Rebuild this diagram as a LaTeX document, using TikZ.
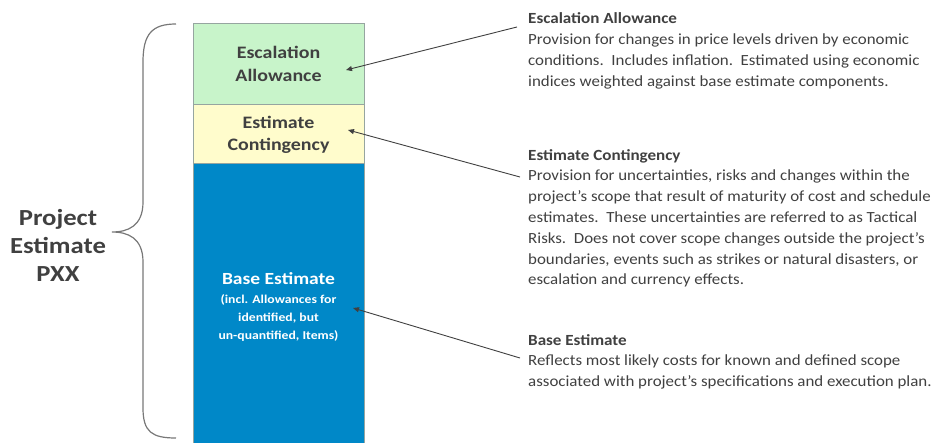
\documentclass[tikz,border=0pt]{standalone}
\usepackage{fontspec}
\setmainfont{Carlito}
\newfontfamily\bodyfont[FakeStretch=1.09]{Carlito}
\newfontfamily\headfont[FakeStretch=1.1]{Carlito}
\newfontfamily\layerfont[FakeStretch=1.14]{Carlito}
\newfontfamily\projfont[FakeStretch=1.16]{Carlito}
\newfontfamily\basefont[FakeStretch=1.15]{Carlito}
\newfontfamily\subfont[FakeStretch=1.14]{Carlito}
\usetikzlibrary{arrows.meta}
\definecolor{escgreen}{RGB}{200,244,202}
\definecolor{contyellow}{RGB}{255,252,204}
\definecolor{baseblue}{RGB}{0,136,200}
\definecolor{txtgray}{RGB}{64,64,64}
\definecolor{edgegray}{RGB}{150,165,160}
\definecolor{bracegray}{RGB}{120,120,120}
\newcommand{\hd}[1]{{\headfont\fontsize{15.5}{20.8}\selectfont\bfseries #1}}
\tikzset{
  layer/.style={draw=edgegray, line width=0.8pt, minimum width=171pt, inner sep=0pt, outer sep=0pt},
  boxtext/.style={font=\layerfont\fontsize{17.5}{22.5}\selectfont\bfseries, text=txtgray, align=center, inner sep=0pt},
  desc/.style={font=\bodyfont\fontsize{15.5}{20.8}\selectfont, text=txtgray, align=left, anchor=north west, inner sep=0pt},
  pointer/.style={-{Triangle[length=6pt,width=5pt]}, draw=txtgray, line width=0.9pt}
}
\begin{document}
\begin{tikzpicture}[x=1pt,y=-1pt]
\useasboundingbox (0,0) rectangle (939,442);
% layers
\node[layer, fill=escgreen, minimum height=81pt, anchor=north west] (esc) at (193,23) {};
\node[layer, fill=contyellow, minimum height=59pt, anchor=north west] (cont) at (193,104) {};
\node[layer, fill=baseblue, minimum height=281pt, anchor=north west] (base) at (193,163) {};
% layer labels
\node[boxtext] (esct) at (278.5,64) {Escalation\\Allowance};
\node[boxtext] (contt) at (278.5,135) {Estimate\\Contingency};
\node[font=\basefont\fontsize{17}{22}\selectfont\bfseries, text=white, inner sep=0pt] (baset) at (278.5,279) {Base Estimate};
\node[font=\subfont\fontsize{12}{18}\selectfont\bfseries, text=white, align=center, inner sep=0pt, anchor=north] (bases) at (278.5,294.5) {(incl. Allowances for\\identified, but\\un-quantified, Items)};
% brace
\draw[bracegray, line width=1.2pt] (176,24) .. controls (152,24) and (143,34) .. (143,62) -- (143,202) .. controls (143,226) and (128,232) .. (112,232) .. controls (128,232) and (143,238) .. (143,262) -- (143,408) .. controls (143,432) and (152,438) .. (176,438);
\node[font=\projfont\fontsize{23}{28}\selectfont\bfseries, text=txtgray, align=center, inner sep=0pt] (proj) at (58,245) {Project\\Estimate\\PXX};
% descriptions
\node[desc] (escd) at (528,12.5) {\hd{Escalation Allowance}\\Provision for changes in price levels driven by economic\\conditions.\ \ Includes inflation.\ \ Estimated using economic\\indices weighted against base estimate components.};
\node[desc] (contd) at (528,149) {\hd{Estimate Contingency}\\Provision for uncertainties, risks and changes within the\\project’s scope that result of maturity of cost and schedule\\estimates.\ \ These uncertainties are referred to as Tactical\\Risks.\ \ Does not cover scope changes outside the project’s\\boundaries, events such as strikes or natural disasters, or\\escalation and currency effects.};
\node[desc] (based) at (528,334) {\hd{Base Estimate}\\Reflects most likely costs for known and defined scope\\associated with project’s specifications and execution plan.};
% pointers
\coordinate (escfrom) at (517,27);
\coordinate (escto) at (346,70);
\coordinate (contfrom) at (520,177);
\coordinate (contto) at (348,130);
\coordinate (basefrom) at (520,358);
\coordinate (baseto) at (353,308);
\draw[pointer] (escfrom) -- (escto);
\draw[pointer] (contfrom) -- (contto);
\draw[pointer] (basefrom) -- (baseto);
\end{tikzpicture}
\end{document}
